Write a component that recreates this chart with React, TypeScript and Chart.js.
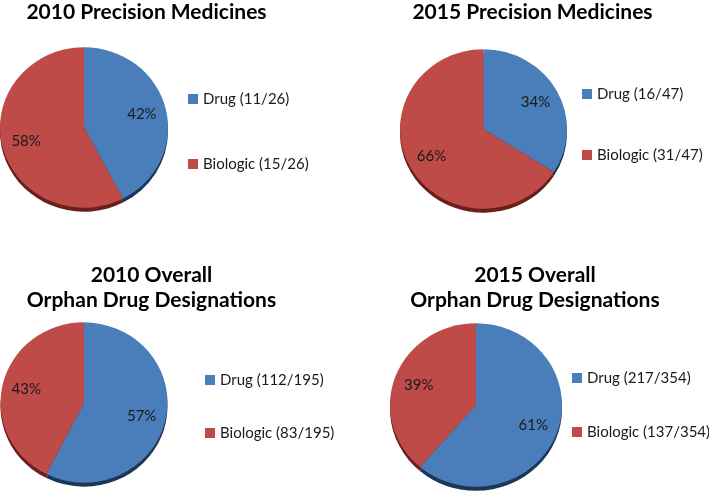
import React, { useEffect, useRef } from "react";
import { Chart, registerables } from "chart.js";

Chart.register(...registerables);

// ---- data ----
const seriesNames = ["Drug", "Biologic"];
const titles2010PM = ["2010 Precision Medicines"];
const titles2015PM = ["2015 Precision Medicines"];
const titles2010OD = ["2010 Overall", "Orphan Drug Designations"];
const titles2015OD = ["2015 Overall", "Orphan Drug Designations"];
const values2010PM = [11, 15];
const values2015PM = [16, 31];
const values2010OD = [112, 83];
const values2015OD = [217, 137];

const COLORS = ["#4A7EBB", "#BE4B48"];
const SHADOWS = ["#1C3657", "#6A1F1D"];
const FONT = "Lato, 'Open Sans', sans-serif";

type Layout = {
  left: number; top: number; width: number; height: number;
  cx: number; cy: number; r: number; sy: number;
  titleX: number; titleY: number[];
  legX: number; legY: number[];
};

const layouts: Layout[] = [
  { left: 0, top: 0, width: 354, height: 247, cx: 84, cy: 127.5, r: 84, sy: 0.955,
    titleX: 146.5, titleY: [19], legX: 188, legY: [94, 159] },
  { left: 354, top: 0, width: 355, height: 247, cx: 129.5, cy: 129, r: 83.5, sy: 0.955,
    titleX: 178.5, titleY: [19], legX: 228, legY: [89, 150] },
  { left: 0, top: 247, width: 354, height: 248, cx: 84, cy: 155.5, r: 83.5, sy: 0.96,
    titleX: 151.5, titleY: [35, 60], legX: 205, legY: [128, 181] },
  { left: 354, top: 247, width: 355, height: 248, cx: 122, cy: 158, r: 86, sy: 0.95,
    titleX: 181, titleY: [35, 60], legX: 218, legY: [126, 180] },
];

function PieBlock({ title, values, layout }: { title: string[]; values: number[]; layout: Layout }) {
  const ref = useRef<HTMLCanvasElement | null>(null);
  useEffect(() => {
    const L = layout;
    const total = values.reduce((a, b) => a + b, 0);
    const hx = Math.min(L.cx, L.width - L.cx);
    const hy = Math.min(L.cy, L.height - L.cy);
    const decor = {
      id: "decor",
      beforeDatasetsDraw(chart: any) {
        const ctx = chart.ctx;
        const meta = chart.getDatasetMeta(0);
        // 3D rim / shadow
        meta.data.forEach((arc: any, i: number) => {
          const p = arc.getProps(["x", "y", "startAngle", "endAngle", "outerRadius"], true);
          ctx.save();
          ctx.translate(p.x, p.y + 4);
          ctx.scale(1, L.sy);
          ctx.beginPath();
          ctx.moveTo(0, 0);
          ctx.arc(0, 0, p.outerRadius, p.startAngle, p.endAngle);
          ctx.closePath();
          ctx.fillStyle = SHADOWS[i];
          ctx.fill();
          ctx.restore();
        });
        ctx.save();
        const a0 = meta.data[0];
        ctx.translate(a0.x, a0.y);
        ctx.scale(1, L.sy);
        ctx.translate(-a0.x, -a0.y);
      },
      afterDatasetsDraw(chart: any) {
        chart.ctx.restore();
      },
      afterDraw(chart: any) {
        const ctx = chart.ctx;
        const meta = chart.getDatasetMeta(0);
        ctx.save();
        // title
        ctx.fillStyle = "#000";
        ctx.font = `bold 21px ${FONT}`;
        ctx.textAlign = "center";
        ctx.textBaseline = "alphabetic";
        title.forEach((t, i) => ctx.fillText(t, L.titleX, L.titleY[i]));
        // percent labels
        ctx.font = `15px ${FONT}`;
        ctx.fillStyle = "#1a1a1a";
        ctx.textBaseline = "middle";
        meta.data.forEach((arc: any, i: number) => {
          const p = arc.getProps(["x", "y", "startAngle", "endAngle", "outerRadius"], true);
          const mid = (p.startAngle + p.endAngle) / 2;
          const d = p.outerRadius * 0.71;
          const x = p.x + Math.cos(mid) * d;
          const y = p.y + Math.sin(mid) * d * L.sy;
          const pct = Math.round((values[i] / total) * 100) + "%";
          ctx.fillText(pct, x, y);
        });
        // legend
        ctx.textAlign = "left";
        ctx.textBaseline = "middle";
        ctx.font = `15px ${FONT}`;
        seriesNames.forEach((n, i) => {
          const y = L.legY[i];
          ctx.fillStyle = COLORS[i];
          ctx.fillRect(L.legX, y, 10, 10);
          ctx.fillStyle = "#1a1a1a";
          ctx.fillText(`${n} (${values[i]}/${total})`, L.legX + 15, y + 5);
        });
        ctx.restore();
      },
    };
    const chart = new Chart(ref.current as HTMLCanvasElement, {
      type: "pie",
      data: {
        labels: seriesNames,
        datasets: [{
          data: values,
          backgroundColor: COLORS,
          borderWidth: 0,
          hoverOffset: 0,
          clip: false as any,
        }],
      },
      options: {
        responsive: false,
        animation: false,
        devicePixelRatio: 1,
        radius: L.r,
        events: [],
        layout: {
          padding: {
            left: L.cx - hx,
            right: L.width - L.cx - hx,
            top: L.cy - hy,
            bottom: L.height - L.cy - hy,
          },
        },
        plugins: { legend: { display: false }, title: { display: false }, tooltip: { enabled: false } },
      } as any,
      plugins: [decor],
    });
    return () => chart.destroy();
  }, []);
  return (
    <canvas
      ref={ref}
      width={layout.width}
      height={layout.height}
      style={{ position: "absolute", left: layout.left, top: layout.top, width: layout.width, height: layout.height }}
    />
  );
}

export default function App() {
  useEffect(() => {
    document.body.style.margin = "0";
  }, []);
  return (
    <div style={{ position: "relative", width: 709, height: 495, background: "#fff" }}>
      <PieBlock title={titles2010PM} values={values2010PM} layout={layouts[0]} />
      <PieBlock title={titles2015PM} values={values2015PM} layout={layouts[1]} />
      <PieBlock title={titles2010OD} values={values2010OD} layout={layouts[2]} />
      <PieBlock title={titles2015OD} values={values2015OD} layout={layouts[3]} />
    </div>
  );
}
